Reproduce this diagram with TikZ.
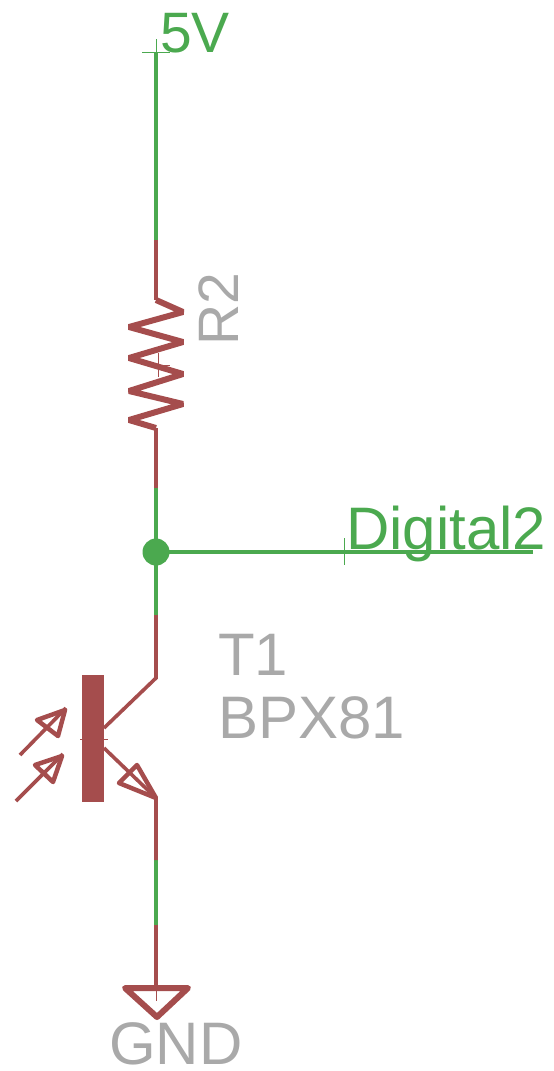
\documentclass[tikz,border=0pt]{standalone}
\usepackage{fontspec}
\setmainfont{Liberation Sans}
\definecolor{netgreen}{HTML}{4BA94F}
\definecolor{partred}{HTML}{A54D4D}
\definecolor{labelgray}{HTML}{A9A9A9}
\tikzset{
    net/.style={netgreen,line width=3.6pt},
    part/.style={partred,line width=3.6pt},
    tick/.style={line width=1pt},
    lbl/.style={anchor=base west,inner sep=0pt,font=\fontsize{60}{60}\selectfont},
    lblsmall/.style={lbl,font=\fontsize{57}{57}\selectfont},
}
\begin{document}
\begin{tikzpicture}[x=1pt,y=-1pt]
    \useasboundingbox (0,0) rectangle (554,1071);
    % points along the main wire
    \coordinate (top) at (156,52);
    \coordinate (rtop) at (156,240);
    \coordinate (r1) at (156,300);
    \coordinate (r2) at (156,428);
    \coordinate (rbot) at (156,488);
    \coordinate (ctop) at (156,615);
    \coordinate (c) at (156,678);
    \coordinate (e) at (156,798);
    \coordinate (ebot) at (156,860);
    \coordinate (gtop) at (156,925);
    \coordinate (g) at (156,988);
    \coordinate (dig) at (344,552);
    \coordinate (digend) at (533,552);
    \coordinate (bc) at (104,728);
    \coordinate (be) at (104,748);
    \node[circle,fill=netgreen,minimum size=27pt,inner sep=0pt] (jn) at (156,552) {};
    % wires
    \draw[net] (top) -- (rtop);
    \draw[net] (rbot) -- (jn.center) -- (ctop);
    \draw[net] (jn.center) -- (dig) -- (digend);
    \draw[net] (ebot) -- (gtop);
    \draw[part] (rtop) -- (r1);
    \draw[part] (r2) -- (rbot);
    \draw[part] (ctop) -- (c) -- (bc);
    \draw[part] (be) -- (e) -- (ebot);
    \draw[part] (gtop) -- (g);
    % pin ticks
    \draw[netgreen,tick] (142,52) -- (170,52) (156,39) -- (156,65);
    \draw[netgreen,tick] (344,538) -- (344,565);
    % resistor
    \draw[part,line width=6pt,line join=bevel] (r1) -- (183,312) -- (129,327) -- (183,342) -- (129,358) -- (183,374) -- (129,391) -- (183,404) -- (129,420) -- (r2);
    \draw[partred,tick] (158,353) -- (158,377) (158,365) -- (170,365);
    % transistor
    \fill[partred] (82,675) rectangle (104,802);
    \draw[partred,tick] (80,739) -- (108,739);
    \draw[part,line width=4.5pt,line join=round] (156,798) -- (137,765) -- (119,783) -- cycle;
    \draw[part] (20,755) -- (66,708);
    \draw[part,line width=4.5pt,line join=round] (65,710) -- (37,720) -- (58,736) -- cycle;
    \draw[part] (16,801) -- (63,754);
    \draw[part,line width=4.5pt,line join=round] (62,756) -- (35,765) -- (53,782) -- cycle;
    % ground
    \draw[partred,line width=6pt,line join=round] (125,988) -- (188,988) -- (157,1017) -- cycle;
    \draw[partred,tick] (g) -- (156,1001);
    % labels
    \node[lblsmall,netgreen] (vcc) at (160,52) {5V};
    \node[lbl,netgreen] (digital) at (346,549) {Digital2};
    \node[lbl,labelgray] (t1) at (218,675) {T1};
    \node[lbl,labelgray] (bpx) at (218,738) {BPX81};
    \node[lbl,labelgray] (gnd) at (109,1064) {GND};
    \node[lblsmall,labelgray,rotate=90] (r2lbl) at (238,346) {R2};
\end{tikzpicture}
\end{document}
